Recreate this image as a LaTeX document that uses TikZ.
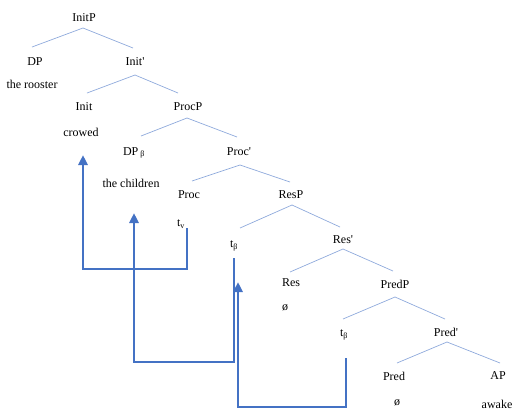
\documentclass[tikz,border=0pt]{standalone}
\usepackage{fontspec}
\setmainfont{Liberation Serif}
\usetikzlibrary{calc,arrows.meta}
\definecolor{branchblue}{HTML}{8FAADC}
\definecolor{moveblue}{HTML}{4472C4}
\begin{document}
\begin{tikzpicture}[x=1pt,y=-1pt,
  lbl/.style={font=\fontsize{12}{14}\selectfont, inner sep=0pt},
  branch/.style={draw=branchblue, line width=0.7pt},
  move/.style={draw=moveblue, line width=2.8pt, -{Triangle[length=10pt,width=9pt]}}]
\useasboundingbox (0,0) rectangle (514,413);
% nodes
\node[lbl] (InitP)  at (84,18)  {InitP};
\node[lbl] (DP)     at (35,62)  {DP};
\node[lbl] (rooster) at (32,84) {the rooster};
\node[lbl] (Initb)  at (135,62) {Init\textquotesingle};
\node[lbl] (Init)   at (84,107) {Init};
\node[lbl] (crowed) at (81,132) {crowed};
\node[lbl] (ProcP)  at (188,107) {ProcP};
\node[lbl] (DPb)    at (134,153) {DP\,\textsubscript{β}};
\node[lbl] (children) at (131,183) {the children};
\node[lbl] (Procb)  at (239,152) {Proc\textquotesingle};
\node[lbl] (Proc)   at (189,195) {Proc};
\node[lbl] (tv)     at (181,224) {t\textsubscript{v}};
\node[lbl] (ResP)   at (291,195) {ResP};
\node[lbl] (tb1)    at (234,246) {t\textsubscript{β}};
\node[lbl] (Resb)   at (343,240) {Res\textquotesingle};
\node[lbl] (Res)    at (291,283) {Res};
\node[lbl] (oRes)   at (285,308) {ø};
\node[lbl] (PredP)  at (395,284) {PredP};
\node[lbl] (tb2)    at (344,335) {t\textsubscript{β}};
\node[lbl] (Predb)  at (446,332) {Pred\textquotesingle};
\node[lbl] (Pred)   at (394,376) {Pred};
\node[lbl] (oPred)  at (397,403) {ø};
\node[lbl] (AP)     at (498,376) {AP};
\node[lbl] (awake)  at (497,404) {awake};
% branches
\draw[branch] ($(InitP)+(-1,10)$) -- ($(DP)+(-3,-15)$);
\draw[branch] ($(InitP)+(-1,10)$) -- ($(Initb)+(-2,-14)$);
\draw[branch] ($(Initb)+(0,13)$) -- ($(Init)+(3,-14)$);
\draw[branch] ($(Initb)+(0,13)$) -- ($(ProcP)+(-10,-14)$);
\draw[branch] ($(ProcP)+(-1,11)$) -- ($(DPb)+(7,-17)$);
\draw[branch] ($(ProcP)+(-1,11)$) -- ($(Procb)+(-2,-15)$);
\draw[branch] ($(Procb)+(1,13)$) -- ($(Proc)+(3,-14)$);
\draw[branch] ($(Procb)+(1,13)$) -- ($(ResP)+(-1,-13)$);
\draw[branch] ($(ResP)+(1,10)$) -- ($(tb1)+(6,-18)$);
\draw[branch] ($(ResP)+(1,10)$) -- ($(Resb)+(-3,-13)$);
\draw[branch] ($(Resb)+(0,9)$) -- ($(Res)+(-1,-11)$);
\draw[branch] ($(Resb)+(0,9)$) -- ($(PredP)+(-2,-13)$);
\draw[branch] ($(PredP)+(0,13)$) -- ($(tb2)+(-1,-16)$);
\draw[branch] ($(PredP)+(0,13)$) -- ($(Predb)+(-1,-13)$);
\draw[branch] ($(Predb)+(1,10)$) -- ($(Pred)+(3,-13)$);
\draw[branch] ($(Predb)+(1,10)$) -- ($(AP)+(2,-13)$);
% movement arrows
\draw[move] ($(tv)+(6,4)$) -- ++(0,41) -| ($(crowed)+(2,23)$);
\draw[move] ($(tb1)+(0,12)$) -- ++(0,104) -| ($(children)+(3,30)$);
\draw[move] ($(tb2)+(2,23)$) -- ++(0,49) -| ($(tb1)+(4,36)$);
\end{tikzpicture}
\end{document}
